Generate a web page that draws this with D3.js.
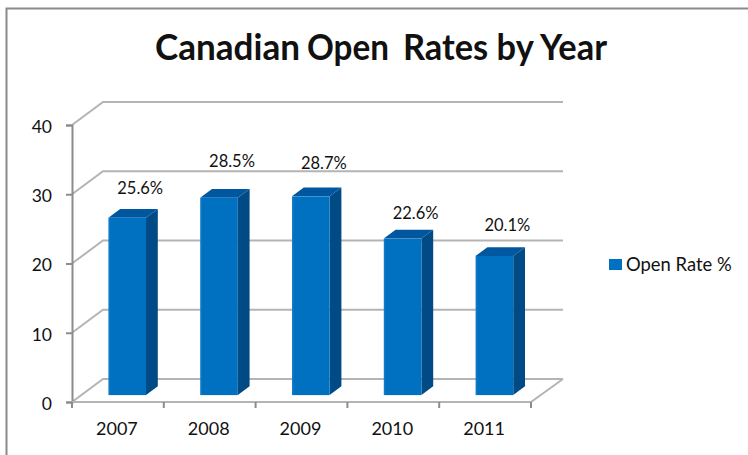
<!DOCTYPE html>
<html>
<head>
<meta charset="utf-8">
<script src="https://cdnjs.cloudflare.com/ajax/libs/d3/7.8.5/d3.min.js"></script>
<style>
  html, body { margin: 0; padding: 0; background: #fff; }
  svg { display: block; }
  text { font-family: Lato, "Open Sans", sans-serif; fill: #111; }
</style>
</head>
<body>
<svg id="chart" width="748" height="455"></svg>
<script>
// Chart values
const years = ["2007", "2008", "2009", "2010", "2011"];
const openRates = [25.6, 28.5, 28.7, 22.6, 20.1];
const valueTicks = [0, 10, 20, 30, 40];
const seriesName = "Open Rate %";
const titleParts = ["Canadian", "Open", "Rates by Year"];

// Horizontal extent of each title run
const titleSpans = [[155, 300], [307, 389], [403, 607]];

// Vertical nudges that lift each value label clear of its bar
const labelLift = [30, 37, 33, 26, 31];

const svg = d3.select("#chart");

const plot = { left: 72, right: 531, top: 125, bottom: 402 };
const depth = { x: 31, y: -23 };        // receding offset of the back wall
const barFront = 0.30;                  // depth fraction of the bar's front face
const barBack = 0.68;                   // depth fraction of the bar's back face

const x = d3.scaleBand().domain(years).range([plot.left, plot.right]).paddingInner(0.59).paddingOuter(0.295);
const y = d3.scaleLinear().domain([0, 40]).range([plot.bottom, plot.top]);

const gridColor = "#b4b4b4";
const axisColor = "#8c8c8c";

// Outer chart frame
svg.append("path")
  .attr("d", "M6.5,455V8.5H748")
  .attr("fill", "none").attr("stroke", "#8a8a8a").attr("stroke-width", 2);

// Title, set in three runs
svg.append("g").selectAll("text").data(titleParts).join("text")
  .attr("x", (d, i) => titleSpans[i][0])
  .attr("y", 60)
  .attr("font-size", 36).attr("font-weight", 700)
  .attr("fill", "#000")
  .attr("textLength", (d, i) => titleSpans[i][1] - titleSpans[i][0])
  .attr("lengthAdjust", "spacingAndGlyphs")
  .text(d => d);

// Back wall gridlines with their diagonal run along the side wall
const grid = svg.append("g").attr("fill", "none").attr("stroke", gridColor).attr("stroke-width", 2);
valueTicks.forEach(t => {
  grid.append("path").attr("d", d3.line()([
    [plot.left, y(t)],
    [plot.left + depth.x, y(t) + depth.y],
    [plot.right + depth.x + 1, y(t) + depth.y]
  ]));
});

// Floor edge on the right
grid.append("path").attr("d", d3.line()([
  [plot.right, plot.bottom],
  [plot.right + depth.x + 1, plot.bottom + depth.y]
]));

// Value axis
const yAxis = svg.append("g")
  .attr("transform", `translate(${plot.left},0)`)
  .call(d3.axisLeft(y).tickValues(valueTicks).tickSize(6).tickPadding(14));
yAxis.select(".domain").attr("stroke", axisColor).attr("stroke-width", 2);
yAxis.selectAll(".tick line").attr("stroke", axisColor).attr("stroke-width", 2);
yAxis.selectAll(".tick text")
  .attr("font-size", 17.5).attr("font-family", "Lato").attr("fill", "#111")
  .attr("dy", "0.42em");

// Category axis: ticks sit on the band edges
const xEdges = d3.scaleLinear().domain([0, years.length]).range([plot.left, plot.right]);
const floor = svg.append("g").attr("stroke", axisColor).attr("stroke-width", 2);
floor.append("line")
  .attr("x1", plot.left).attr("x2", plot.right)
  .attr("y1", plot.bottom).attr("y2", plot.bottom)
  .attr("stroke", gridColor);
d3.range(years.length + 1).forEach(i => {
  floor.append("line")
    .attr("x1", xEdges(i)).attr("x2", xEdges(i))
    .attr("y1", plot.bottom).attr("y2", plot.bottom + 6);
});
svg.append("g").selectAll("text").data(years).join("text")
  .attr("x", d => x(d) + x.bandwidth() / 2 - 1)
  .attr("y", 435)
  .attr("text-anchor", "middle")
  .attr("font-size", 18)
  .text(d => d);

// Bars drawn as three faces: side, top, front
const fx = depth.x * barFront, fy = depth.y * barFront;
const bx = depth.x * barBack, by = depth.y * barBack;
const faceDx = bx - fx, faceDy = by - fy;

const defs = svg.append("defs");
const frontGrad = defs.append("linearGradient").attr("id", "front");
frontGrad.append("stop").attr("offset", 0).attr("stop-color", "#1a7fca");
frontGrad.append("stop").attr("offset", 0.06).attr("stop-color", "#0070c0");
frontGrad.append("stop").attr("offset", 1).attr("stop-color", "#0070c0");

const bars = svg.append("g").selectAll("g").data(years).join("g");
const path = d3.line();

bars.each(function (d, i) {
  const g = d3.select(this);
  const x0 = x(d) + fx, x1 = x0 + x.bandwidth();
  const top = y(openRates[i]) + fy, base = y(0) + fy;
  g.append("path").attr("fill", "#004a85").attr("d", path([
    [x1, top], [x1 + faceDx, top + faceDy], [x1 + faceDx, base + faceDy], [x1, base]
  ]) + "Z");
  g.append("path").attr("fill", "#00579f").attr("d", path([
    [x0, top], [x0 + faceDx, top + faceDy], [x1 + faceDx, top + faceDy], [x1, top]
  ]) + "Z");
  g.append("rect").attr("fill", "url(#front)")
    .attr("x", x0).attr("y", top)
    .attr("width", x.bandwidth()).attr("height", base - top);
});

// Value labels
svg.append("g").selectAll("text").data(years).join("text")
  .attr("x", d => x(d) + fx + x.bandwidth() / 2 + 13)
  .attr("y", (d, i) => y(openRates[i]) + fy - labelLift[i] + 6)
  .attr("text-anchor", "middle")
  .attr("font-size", 16.5)
  .text((d, i) => openRates[i].toFixed(1) + "%");

// Legend
const legend = svg.append("g").attr("transform", "translate(609,259)");
legend.append("rect").attr("width", 13).attr("height", 11).attr("fill", "#0070c0");
legend.append("text").attr("x", 17).attr("y", 12).attr("font-size", 18.4).text(seriesName);
</script>
</body>
</html>
